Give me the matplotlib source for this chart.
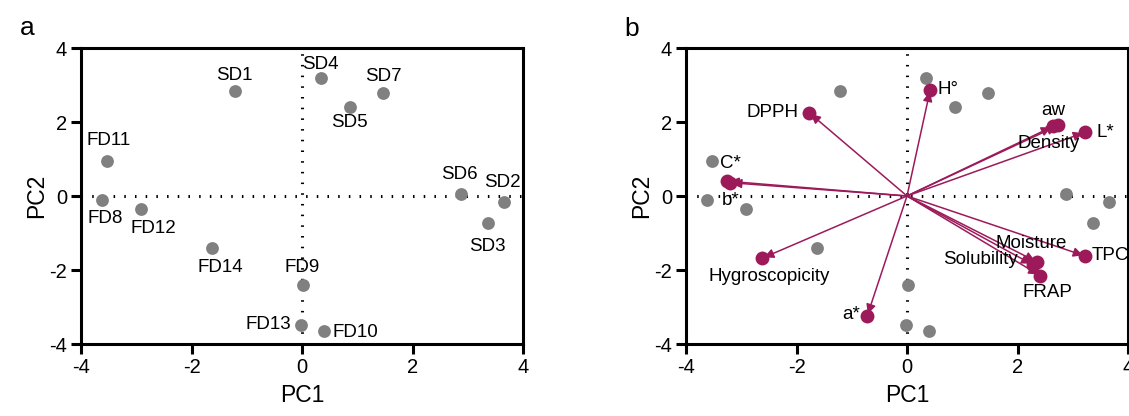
import matplotlib
matplotlib.use("Agg")
import matplotlib.pyplot as plt

plt.rcParams['font.family'] = ['Liberation Sans', 'DejaVu Sans']
plt.rcParams['axes.unicode_minus'] = False

# Scores (panel a, also grey points in panel b)
samples = ["SD1", "SD4", "SD7", "SD5", "FD11", "FD8", "FD12", "FD14",
           "FD9", "FD13", "FD10", "SD6", "SD2", "SD3"]
score_pc1 = [-1.22, 0.34, 1.47, 0.86, -3.53, -3.62, -2.91, -1.63,
             0.01, -0.02, 0.40, 2.88, 3.65, 3.36]
score_pc2 = [2.84, 3.18, 2.78, 2.41, 0.94, -0.12, -0.36, -1.40,
             -2.41, -3.48, -3.64, 0.06, -0.16, -0.73]

# Loadings (panel b)
variables = ["DPPH", "H°", "aw", "Density", "L*", "TPC", "Moisture",
             "Solubility", "FRAP", "C*", "b*", "Hygroscopicity", "a*"]
load_pc1 = [-1.77, 0.42, 2.74, 2.64, 3.22, 3.22, 2.35, 2.28, 2.41,
            -3.25, -3.20, -2.62, -0.72]
load_pc2 = [2.25, 2.87, 1.91, 1.88, 1.72, -1.62, -1.78, -1.86, -2.15,
            0.40, 0.36, -1.68, -3.24]

# label placement (offset in points, ha)
sample_lab = [(0, 11, 'center'), (0, 10, 'center'), (0, 12, 'center'),
              (0, -11, 'center'), (1, 15, 'center'), (2, -13, 'center'),
              (9, -14, 'center'), (6, -14, 'center'), (0, 13, 'center'),
              (-7, 0, 'right'), (6, -1, 'left'), (-1, 14, 'center'),
              (-1, 14, 'center'), (0, -17, 'center')]
var_lab = [(-8, 0, 'right'), (5, 0, 'left'), (-4, 11, 'center'),
           (-3, -12, 'center'), (8, 0, 'left'), (5, 0, 'left'),
           (-4, 13, 'center'), (-11, 4, 'right'), (5, -12, 'center'),
           (2, 13, 'center'), (0, -13, 'center'), (5, -13, 'center'),
           (-5, 1, 'right')]

grey = "#808080"
maroon = "#9c1a5a"

fig = plt.figure(figsize=(11.29, 4.16), dpi=100)
ax_a = fig.add_axes([81 / 1129, 72 / 416, 442 / 1129, 296 / 416])
ax_b = fig.add_axes([686 / 1129, 72 / 416, 442 / 1129, 296 / 416])

for ax in (ax_a, ax_b):
    ax.set_xlim(-4, 4)
    ax.set_ylim(-4, 4)
    ax.set_xticks([-4, -2, 0, 2, 4])
    ax.set_yticks([-4, -2, 0, 2, 4])
    ax.axhline(0, color='black', linestyle=(0, (0.5, 3)), linewidth=2.2, zorder=1)
    ax.axvline(0, color='black', linestyle=(0, (0.5, 3)), linewidth=2.2, zorder=1)
    for s in ax.spines.values():
        s.set_linewidth(2.2)
    ax.tick_params(width=2.2, length=7, labelsize=14.5, pad=3)
    ax.set_xlabel("PC1", fontsize=16.5, labelpad=5)
    ax.set_ylabel("PC2", fontsize=16.5, labelpad=1)
    ax.scatter(score_pc1, score_pc2, s=85, color=grey, zorder=3, linewidths=0)

# panel a labels
for name, x, y, (dx, dy, ha) in zip(samples, score_pc1, score_pc2, sample_lab):
    ax_a.annotate(name, (x, y), xytext=(dx, dy), textcoords='offset points',
                  ha=ha, va='center', fontsize=13.5, zorder=4)

# panel b arrows + labels
for name, x, y, (dx, dy, ha) in zip(variables, load_pc1, load_pc2, var_lab):
    ax_b.annotate("", xy=(x, y), xytext=(0, 0),
                  arrowprops=dict(arrowstyle='-|>', color=maroon, lw=1.1,
                                  mutation_scale=14, shrinkA=0, shrinkB=1.5),
                  zorder=4)
    ax_b.annotate(name, (x, y), xytext=(dx, dy), textcoords='offset points',
                  ha=ha, va='center', fontsize=13.5, zorder=6)
ax_b.scatter(load_pc1, load_pc2, s=100, color=maroon, zorder=5, linewidths=0)

fig.text(27 / 1129, 1 - 28 / 416, "a", fontsize=19, ha='center', va='center')
fig.text(632 / 1129, 1 - 29 / 416, "b", fontsize=19, ha='center', va='center')

fig.savefig("out.png", dpi=100)
